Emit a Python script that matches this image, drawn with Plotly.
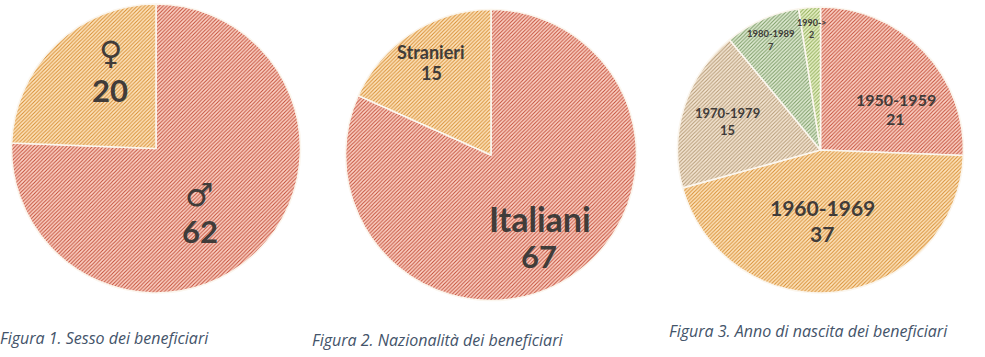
import plotly.graph_objects as go

W, H = 985, 357

sex_labels = ["♂", "♀"]
sex_values = [62, 20]
nat_labels = ["Italiani", "Stranieri"]
nat_values = [67, 15]
year_labels = ["1950-1959", "1960-1969", "1970-1979", "1980-1989", "1990->"]
year_values = [21, 37, 15, 7, 2]
captions = ["Figura 1. Sesso dei beneficiari",
            "Figura 2. Nazionalità dei beneficiari",
            "Figura 3. Anno di nascita dei beneficiari"]

bg = ["#fdd6ca", "#fee6c2", "#f6e8d6", "#e2edd6", "#ebf4cc"]
fg = ["#c4503a", "#d88f34", "#b59a76", "#7c9b66", "#90ac58"]


def pie(labels, values, cx, cy, r, psize):
    n = len(values)
    return go.Pie(
        labels=labels, values=values, sort=False, direction="clockwise", rotation=0,
        textinfo="none", showlegend=False, hoverinfo="label+value",
        domain=dict(x=[(cx - r) / W, (cx + r) / W], y=[1 - (cy + r) / H, 1 - (cy - r) / H]),
        marker=dict(colors=bg[:n],
                    line=dict(color="#fbf6ee", width=1.6),
                    pattern=dict(shape="/", fgcolor=fg[:n], bgcolor=bg[:n],
                                 size=psize, solidity=0.42, fgopacity=1)),
    )


fig = go.Figure([
    pie(sex_labels, sex_values, 156, 148.5, 144.5, 2.6),
    pie(nat_labels, nat_values, 491, 155, 145.5, 2.6),
    pie(year_labels, year_values, 820.5, 150, 143, 2.6),
])


def label(text, x, y, size, font="Lato", bold=True):
    t = f"<b>{text}</b>" if bold else text
    fig.add_annotation(x=x / W, y=1 - y / H, xref="paper", yref="paper", text=t, showarrow=False,
                       font=dict(family=font, size=size, color="#403c3a"),
                       xanchor="center", yanchor="middle")


sym = "DejaVu Sans"
label(sex_labels[1], 110, 53, 32, sym, False)
label(str(sex_values[1]), 110, 90, 31)
label(sex_labels[0], 199, 195, 32, sym, False)
label(str(sex_values[0]), 200, 231, 31)
label(nat_labels[0], 540, 218, 34)
label(str(nat_values[0]), 539, 256, 31)
label(nat_labels[1], 431, 52, 18)
label(str(nat_values[1]), 431, 73, 18)
label(year_labels[0], 896, 99, 16)
label(str(year_values[0]), 895, 119, 16)
label(year_labels[1], 822, 207, 21)
label(str(year_values[1]), 822, 233, 21)
label(year_labels[2], 727, 113, 13)
label(str(year_values[2]), 727, 130, 13)
label(year_labels[3], 771, 33, 9.5)
label(str(year_values[3]), 771, 47, 9.5)
label(year_labels[4], 811, 22, 9)
label(str(year_values[4]), 811, 35, 9)

for text, x, y in zip(captions, [-2, 310, 667], [338, 340, 331]):
    fig.add_annotation(x=x / W, y=1 - y / H, xref="paper", yref="paper", text=f"<i>{text}</i>",
                       showarrow=False, xanchor="left", yanchor="middle",
                       font=dict(family="Open Sans", size=16, color="#44546a"))

fig.update_layout(width=W, height=H, margin=dict(l=0, r=0, t=0, b=0),
                  paper_bgcolor="white", plot_bgcolor="white")
fig.write_html("out.html", config={"displayModeBar": False},
               post_script="document.body.style.margin='0';document.documentElement.style.overflow='hidden';")
